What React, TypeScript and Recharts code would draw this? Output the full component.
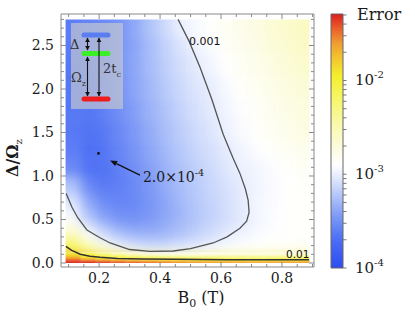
import React from "react";
import {
  ComposedChart,
  XAxis,
  YAxis,
  Scatter,
  ReferenceArea,
  ReferenceLine,
  ReferenceDot,
  Label,
} from "recharts";

// ---- data ----

// cell edges of the error map (B0 in T, Delta/Omega_z)
const bEdges = [0.09, 0.14, 0.19, 0.24, 0.29, 0.34, 0.39, 0.44, 0.49, 0.54, 0.59, 0.64, 0.69, 0.74, 0.79, 0.84, 0.89];
const ratioEdges = [0, 0.02, 0.045, 0.08, 0.12, 0.17, 0.23, 0.3, 0.4, 0.5, 0.65, 0.8, 1.0, 1.2, 1.4, 1.65, 1.9, 2.15, 2.4, 2.6, 2.8];

// log10(error), one row per ratio band, bottom row first
const logError = [
  [-1.25, -1.30, -1.35, -1.40, -1.44, -1.48, -1.52, -1.55, -1.57, -1.59, -1.60, -1.61, -1.61, -1.61, -1.60, -1.60],
  [-1.45, -1.55, -1.63, -1.71, -1.78, -1.83, -1.87, -1.90, -1.92, -1.93, -1.94, -1.94, -1.94, -1.93, -1.92, -1.92],
  [-1.68, -1.88, -1.98, -2.05, -2.11, -2.17, -2.22, -2.26, -2.28, -2.29, -2.30, -2.30, -2.30, -2.30, -2.29, -2.28],
  [-1.88, -2.08, -2.25, -2.40, -2.55, -2.65, -2.70, -2.72, -2.72, -2.71, -2.70, -2.69, -2.68, -2.67, -2.66, -2.65],
  [-1.98, -2.30, -2.58, -2.80, -2.95, -3.02, -3.02, -2.99, -2.96, -2.93, -2.90, -2.88, -2.86, -2.85, -2.84, -2.83],
  [-2.15, -2.52, -2.80, -3.00, -3.08, -3.11, -3.10, -3.07, -3.03, -2.98, -2.94, -2.91, -2.89, -2.88, -2.87, -2.86],
  [-2.40, -2.72, -2.99, -3.12, -3.20, -3.23, -3.22, -3.17, -3.11, -3.05, -2.98, -2.94, -2.91, -2.89, -2.88, -2.87],
  [-2.60, -2.92, -3.13, -3.27, -3.34, -3.35, -3.32, -3.26, -3.19, -3.12, -3.04, -2.98, -2.94, -2.91, -2.89, -2.88],
  [-2.80, -3.10, -3.30, -3.42, -3.46, -3.43, -3.37, -3.30, -3.22, -3.15, -3.09, -3.03, -2.96, -2.92, -2.90, -2.88],
  [-2.96, -3.27, -3.45, -3.54, -3.54, -3.48, -3.40, -3.32, -3.24, -3.17, -3.10, -3.04, -2.96, -2.92, -2.90, -2.88],
  [-3.07, -3.40, -3.56, -3.60, -3.57, -3.49, -3.40, -3.31, -3.23, -3.16, -3.10, -3.03, -2.97, -2.93, -2.90, -2.88],
  [-3.25, -3.55, -3.64, -3.62, -3.55, -3.46, -3.36, -3.28, -3.21, -3.14, -3.08, -3.02, -2.97, -2.93, -2.90, -2.87],
  [-3.55, -3.68, -3.68, -3.61, -3.52, -3.42, -3.33, -3.25, -3.18, -3.12, -3.05, -2.99, -2.96, -2.92, -2.88, -2.85],
  [-3.62, -3.70, -3.67, -3.59, -3.49, -3.39, -3.30, -3.22, -3.15, -3.09, -3.03, -2.97, -2.92, -2.88, -2.84, -2.80],
  [-3.64, -3.68, -3.64, -3.56, -3.46, -3.36, -3.27, -3.19, -3.12, -3.06, -2.99, -2.93, -2.88, -2.84, -2.79, -2.75],
  [-3.65, -3.66, -3.61, -3.53, -3.43, -3.33, -3.24, -3.16, -3.09, -3.03, -2.97, -2.91, -2.86, -2.81, -2.76, -2.72],
  [-3.65, -3.64, -3.58, -3.50, -3.40, -3.30, -3.21, -3.13, -3.06, -3.01, -2.94, -2.88, -2.83, -2.78, -2.73, -2.69],
  [-3.64, -3.62, -3.56, -3.49, -3.39, -3.28, -3.18, -3.10, -3.03, -2.96, -2.90, -2.84, -2.79, -2.74, -2.69, -2.64],
  [-3.63, -3.60, -3.55, -3.50, -3.40, -3.28, -3.17, -3.07, -2.98, -2.92, -2.86, -2.81, -2.76, -2.70, -2.65, -2.60],
  [-3.62, -3.58, -3.54, -3.50, -3.38, -3.24, -3.12, -3.00, -2.94, -2.89, -2.84, -2.79, -2.74, -2.68, -2.63, -2.58],
];

// contour lines [B0, ratio]
const contour001 = [
  [0.459, 2.8], [0.495, 2.55], [0.531, 2.25], [0.57, 1.88], [0.607, 1.48], [0.64, 1.2],
  [0.662, 1.03], [0.68, 0.85], [0.689, 0.72], [0.692, 0.58], [0.684, 0.48], [0.662, 0.4],
  [0.62, 0.3], [0.574, 0.23], [0.5, 0.165], [0.443, 0.138], [0.367, 0.133], [0.3, 0.155],
  [0.236, 0.23], [0.203, 0.29], [0.16, 0.38], [0.13, 0.52], [0.111, 0.64], [0.092, 0.8],
];
const contour01 = [
  [0.091, 0.19], [0.11, 0.145], [0.138, 0.1], [0.17, 0.078], [0.203, 0.065], [0.26, 0.053],
  [0.344, 0.046], [0.45, 0.042], [0.62, 0.038], [0.889, 0.037],
];
const minPoint = { b: 0.198, r: 1.26 };

const bMajor = [0.2, 0.4, 0.6, 0.8];
const bMinor = [0.1, 0.15, 0.25, 0.3, 0.35, 0.45, 0.5, 0.55, 0.65, 0.7, 0.75, 0.85, 0.9];
const rMajor = [0, 0.5, 1, 1.5, 2, 2.5];
const rMinor = [0.1, 0.2, 0.3, 0.4, 0.6, 0.7, 0.8, 0.9, 1.1, 1.2, 1.3, 1.4, 1.6, 1.7, 1.8, 1.9, 2.1, 2.2, 2.3, 2.4, 2.6, 2.7, 2.8];
const cbMajor = [1e-4, 1e-3, 1e-2];
const cbMinor = [2e-4, 3e-4, 4e-4, 5e-4, 6e-4, 7e-4, 8e-4, 9e-4, 2e-3, 3e-3, 4e-3, 5e-3, 6e-3, 7e-3, 8e-3, 9e-3, 2e-2, 3e-2, 4e-2, 5e-2];

// ---- layout ----
const W = 415;
const H = 321;
const PLOT = { left: 61, top: 14, right: 314, bottom: 267 };
// axes take 1px each, so margins are one px smaller
const MARGIN = { top: PLOT.top - 1, right: W - PLOT.right - 1, bottom: H - PLOT.bottom - 1, left: PLOT.left - 1 };
const HEAT_MARGIN = { top: PLOT.top, right: W - PLOT.right, bottom: H - PLOT.bottom, left: PLOT.left };
const B_DOMAIN: [number, number] = [0.075, 0.905];
const R_DOMAIN: [number, number] = [-0.046, 2.862];
const CB_DOMAIN: [number, number] = [1e-4, 0.0512];
const FONT = '"DejaVu Serif", serif';
const FRAME = "#8a8a8a";
const INK = "#1a1a1a";

const colorStops: [number, string][] = [
  [-4.0, "#2c4cf2"],
  [-3.7, "#4b6ef4"],
  [-3.45, "#7d99f6"],
  [-3.25, "#adc1f9"],
  [-3.05, "#dfe7fd"],
  [-2.9, "#ffffff"],
  [-2.75, "#fcfce4"],
  [-2.5, "#f9f9b4"],
  [-2.2, "#f6f66a"],
  [-1.95, "#f4ee2c"],
  [-1.75, "#f2c22e"],
  [-1.6, "#ef9c32"],
  [-1.45, "#e9602a"],
  [-1.29, "#dc1e1e"],
];

function rgb(h: string) {
  return [1, 3, 5].map(i => parseInt(h.slice(i, i + 2), 16));
}

function errorColor(v: number) {
  if (v <= colorStops[0][0]) return colorStops[0][1];
  for (let i = 0; i < colorStops.length - 1; i++) {
    const [v0, c0] = colorStops[i];
    const [v1, c1] = colorStops[i + 1];
    if (v <= v1) {
      const t = (v - v0) / (v1 - v0);
      const a = rgb(c0);
      const b = rgb(c1);
      return `rgb(${a.map((x, k) => Math.round(x + (b[k] - x) * t)).join(",")})`;
    }
  }
  return colorStops[colorStops.length - 1][1];
}

// pixel helpers, only used to clip the blurred map layers
const plotW = PLOT.right - PLOT.left;
const plotH = PLOT.bottom - PLOT.top;
const px = (b: number) => PLOT.left + ((b - B_DOMAIN[0]) / (B_DOMAIN[1] - B_DOMAIN[0])) * plotW;
const py = (r: number) => PLOT.top + ((R_DOMAIN[1] - r) / (R_DOMAIN[1] - R_DOMAIN[0])) * plotH;

function HeatLayer({ blur, from, to }: { blur: number; from: number; to: number }) {
  const nCols = bEdges.length - 1;
  const nRows = ratioEdges.length - 1;
  const cells: React.ReactElement[] = [];
  logError.forEach((row, j) =>
    row.forEach((v, i) => {
      const x1 = i === 0 ? bEdges[0] - 0.08 : bEdges[i];
      const x2 = i === nCols - 1 ? bEdges[i + 1] + 0.08 : bEdges[i + 1];
      const y1 = j === 0 ? ratioEdges[0] - 0.3 : ratioEdges[j];
      const y2 = j === nRows - 1 ? ratioEdges[j + 1] + 0.3 : ratioEdges[j + 1];
      cells.push(
        <ReferenceArea
          key={`${i}-${j}`}
          x1={x1}
          x2={x2}
          y1={y1}
          y2={y2}
          fill={errorColor(v)}
          fillOpacity={1}
          stroke="none"
          ifOverflow="visible"
        />
      );
    })
  );
  const clip = `inset(${py(to)}px ${W - px(bEdges[nCols])}px ${H - py(from)}px ${px(bEdges[0])}px)`;
  return (
    <div style={{ position: "absolute", left: 0, top: 0, filter: `blur(${blur}px)`, clipPath: clip }}>
      <ComposedChart width={W} height={H} margin={HEAT_MARGIN}>
        <XAxis type="number" dataKey="b" domain={B_DOMAIN} allowDataOverflow hide />
        <YAxis type="number" dataKey="r" domain={R_DOMAIN} allowDataOverflow hide />
        {cells}
      </ComposedChart>
    </div>
  );
}

function BottomTick(props: any) {
  const { x, payload } = props;
  const major = bMajor.includes(payload.value);
  return (
    <g>
      <line x1={x} y1={PLOT.bottom} x2={x} y2={PLOT.bottom - (major ? 5 : 3)} stroke={FRAME} />
      {major && (
        <text x={x} y={PLOT.bottom + 16} textAnchor="middle" fontFamily={FONT} fontSize={14} fill={INK}>
          {payload.value.toFixed(1)}
        </text>
      )}
    </g>
  );
}

function TopTick(props: any) {
  const { x, payload } = props;
  const major = bMajor.includes(payload.value);
  return <line x1={x} y1={PLOT.top} x2={x} y2={PLOT.top + (major ? 5 : 3)} stroke={FRAME} />;
}

function LeftTick(props: any) {
  const { y, payload } = props;
  const major = rMajor.includes(payload.value);
  return (
    <g>
      <line x1={PLOT.left} y1={y} x2={PLOT.left + (major ? 5 : 3)} y2={y} stroke={FRAME} />
      {major && (
        <text x={PLOT.left - 7} y={y + 5} textAnchor="end" fontFamily={FONT} fontSize={14} fill={INK}>
          {payload.value.toFixed(1)}
        </text>
      )}
    </g>
  );
}

function RightTick(props: any) {
  const { y, payload } = props;
  const major = rMajor.includes(payload.value);
  return <line x1={PLOT.right} y1={y} x2={PLOT.right - (major ? 5 : 3)} y2={y} stroke={FRAME} />;
}

const CB_LEFT = 331;
const CB_RIGHT = 343;

function ColorbarTick(props: any) {
  const { y, payload } = props;
  const major = cbMajor.includes(payload.value);
  const x = CB_RIGHT;
  return (
    <g>
      <line x1={x} y1={y} x2={x + 3.5} y2={y} stroke="#777" />
      {major && (
        <text x={x + 12} y={y + 5} fontFamily={FONT} fontSize={15} fill={INK}>
          10
          <tspan dy={-7} fontSize={10}>
            -{-Math.round(Math.log10(payload.value))}
          </tspan>
        </text>
      )}
    </g>
  );
}

function ArrowShape(props: any) {
  const { x1, y1, x2, y2 } = props;
  const ang = Math.atan2(y2 - y1, x2 - x1);
  const c = Math.cos(ang);
  const s = Math.sin(ang);
  const bx = x2 - 7 * c;
  const by = y2 - 7 * s;
  const pts = `${x2},${y2} ${bx - 2.8 * s},${by + 2.8 * c} ${bx + 2.8 * s},${by - 2.8 * c}`;
  return (
    <g>
      <line x1={x1} y1={y1} x2={bx} y2={by} stroke="#111" strokeWidth={1.2} />
      <polygon points={pts} fill="#111" />
      <text x={x1 + 3} y={y1 + 6.5} fontFamily={FONT} fontSize={14} fill={INK}>
        2.0×10
        <tspan dy={-6} fontSize={9.5}>
          -4
        </tspan>
      </text>
    </g>
  );
}

const toPoints = (c: number[][]) => c.map(([b, r]) => ({ b, r }));

function Inset() {
  const head = (x: number, y: number, dir: number) => (
    <polygon points={`${x},${y} ${x - 2.3},${y - 4.5 * dir} ${x + 2.3},${y - 4.5 * dir}`} fill="#111" />
  );
  return (
    <g>
      <rect x={71} y={23} width={52} height={86} fill="#c9cbcc" fillOpacity={0.65} />
      <line x1={84} y1={35} x2={108} y2={35} stroke="#5a7ef2" strokeWidth={5} strokeLinecap="round" />
      <line x1={84} y1={53.5} x2={108} y2={53.5} stroke="#3cee28" strokeWidth={5} strokeLinecap="round" />
      <line x1={84} y1={99} x2={108} y2={99} stroke="#ee1c1c" strokeWidth={5} strokeLinecap="round" />
      <line x1={87.5} y1={38} x2={87.5} y2={50} stroke="#111" strokeWidth={1.1} />
      {head(87.5, 37.5, -1)}
      {head(87.5, 50.5, 1)}
      <line x1={87.5} y1={57} x2={87.5} y2={96} stroke="#111" strokeWidth={1.1} />
      {head(87.5, 56.5, -1)}
      {head(87.5, 96.5, 1)}
      <line x1={99} y1={38} x2={99} y2={96} stroke="#111" strokeWidth={1.1} />
      {head(99, 37.5, -1)}
      {head(99, 96.5, 1)}
      <text x={74.7} y={49.3} textAnchor="middle" fontFamily={FONT} fontSize={13} fill="#333">
        Δ
      </text>
      <text x={71} y={81.7} fontFamily={FONT} fontSize={13} fill="#333">
        Ω
        <tspan dy={4} fontSize={8}>
          z
        </tspan>
      </text>
      <text x={103} y={73.3} fontFamily={FONT} fontSize={13} fill="#333">
        2t
        <tspan dy={3.5} fontSize={8}>
          c
        </tspan>
      </text>
    </g>
  );
}

export default function App() {
  const logMin = Math.log10(CB_DOMAIN[0]);
  const logMax = Math.log10(CB_DOMAIN[1]);
  const bTicks = [...bMajor, ...bMinor].sort((a, b) => a - b);
  const rTicks = [...rMajor, ...rMinor].sort((a, b) => a - b);
  const cbTicks = [...cbMajor, ...cbMinor].sort((a, b) => a - b);

  const axisCommon = {
    type: "number" as const,
    allowDataOverflow: true,
    interval: 0 as const,
    tickSize: 0,
    tickMargin: 0,
    tickLine: false,
    axisLine: false,
  };

  return (
    <div style={{ position: "absolute", left: 0, top: 0, width: W, height: H, background: "#fff" }}>
      <HeatLayer blur={6} from={0.12} to={2.8} />
      <HeatLayer blur={1} from={0} to={0.12} />

      <div style={{ position: "absolute", left: 0, top: 0 }}>
        <ComposedChart width={W} height={H} margin={MARGIN}>
          <XAxis {...axisCommon} xAxisId="b" dataKey="b" domain={B_DOMAIN} ticks={bTicks} height={1} tick={<BottomTick />}>
            <Label
              content={() => (
                <text x={201} y={303} textAnchor="middle" fontFamily={FONT} fontSize={16} fill={INK}>
                  B
                  <tspan dy={4} fontSize={11}>
                    0
                  </tspan>
                  <tspan dy={-4}> (T)</tspan>
                </text>
              )}
            />
          </XAxis>
          <XAxis {...axisCommon} xAxisId="t" orientation="top" dataKey="b" domain={B_DOMAIN} ticks={bTicks} height={1} tick={<TopTick />} />
          <YAxis {...axisCommon} yAxisId="l" dataKey="r" domain={R_DOMAIN} ticks={rTicks} width={1} tick={<LeftTick />}>
            <Label
              content={() => (
                <text
                  transform="translate(17.5,158) rotate(-90)"
                  textAnchor="middle"
                  fontFamily={FONT}
                  fontSize={16}
                  fontWeight="bold"
                  fill={INK}
                >
                  Δ/Ω
                  <tspan dy={4} fontSize={10} fontWeight="normal">
                    z
                  </tspan>
                </text>
              )}
            />
          </YAxis>
          <YAxis {...axisCommon} yAxisId="rr" orientation="right" dataKey="r" domain={R_DOMAIN} ticks={rTicks} width={1} tick={<RightTick />} />

          <ReferenceArea
            xAxisId="b"
            yAxisId="l"
            x1={B_DOMAIN[0]}
            x2={B_DOMAIN[1]}
            y1={R_DOMAIN[0]}
            y2={R_DOMAIN[1]}
            fill="none"
            stroke={FRAME}
            strokeWidth={1}
          />

          <Scatter
            xAxisId="b"
            yAxisId="l"
            data={toPoints(contour001)}
            fill="none"
            line={{ stroke: "#555", strokeWidth: 1.3 }}
            shape={() => <g />}
            isAnimationActive={false}
          />
          <Scatter
            xAxisId="b"
            yAxisId="l"
            data={toPoints(contour01)}
            fill="none"
            line={{ stroke: "#333", strokeWidth: 1.5 }}
            shape={() => <g />}
            isAnimationActive={false}
          />

          <ReferenceDot xAxisId="b" yAxisId="l" x={minPoint.b} y={minPoint.r} r={1.4} fill="#111" stroke="none" />
          <ReferenceLine
            xAxisId="b"
            yAxisId="l"
            segment={[
              { x: 0.334, y: 1.01 },
              { x: 0.236, y: 1.178 },
            ]}
            shape={ArrowShape}
          />
          <ReferenceDot
            xAxisId="b"
            yAxisId="l"
            x={0.495}
            y={2.55}
            r={1}
            shape={(p: any) => (
              <text x={p.cx} y={p.cy + 4} fontFamily='"DejaVu Sans", sans-serif' fontSize={11} fill="#111">
                0.001
              </text>
            )}
          />
          <ReferenceDot
            xAxisId="b"
            yAxisId="l"
            x={0.813}
            y={0.103}
            r={1}
            shape={(p: any) => (
              <text x={p.cx} y={p.cy + 4} fontFamily='"DejaVu Sans", sans-serif' fontSize={10.5} fill="#111">
                0.01
              </text>
            )}
          />
        </ComposedChart>
      </div>

      <div style={{ position: "absolute", left: 0, top: 0 }}>
        <ComposedChart
          width={W}
          height={H}
          margin={{ top: 14, right: 0, bottom: H - 268, left: CB_LEFT }}
          data={[{ x: 0.5, y: 1e-3 }]}
        >
          <XAxis type="number" dataKey="x" domain={[0, 1]} hide />
          <YAxis
            orientation="right"
            type="number"
            dataKey="y"
            scale="log"
            domain={CB_DOMAIN}
            allowDataOverflow
            ticks={cbTicks}
            interval={0}
            width={W - CB_RIGHT}
            tickSize={0}
            tickMargin={0}
            tickLine={false}
            axisLine={false}
            tick={<ColorbarTick />}
          >
            <Label
              content={() => (
                <text x={357} y={20} fontFamily={FONT} fontSize={16} fill={INK}>
                  Error
                </text>
              )}
            />
          </YAxis>
          <ReferenceArea
            y1={CB_DOMAIN[0]}
            y2={CB_DOMAIN[1]}
            fill="url(#errGrad)"
            fillOpacity={1}
            stroke="#666"
            strokeWidth={1}
          />
        </ComposedChart>
      </div>

      <svg width={W} height={H} style={{ position: "absolute", left: 0, top: 0, pointerEvents: "none" }}>
        <defs>
          <linearGradient id="errGrad" x1="0" y1="1" x2="0" y2="0">
            {colorStops.map(([v, c]) => (
              <stop key={v} offset={(v - logMin) / (logMax - logMin)} stopColor={c} />
            ))}
          </linearGradient>
        </defs>
        <Inset />
      </svg>
    </div>
  );
}
